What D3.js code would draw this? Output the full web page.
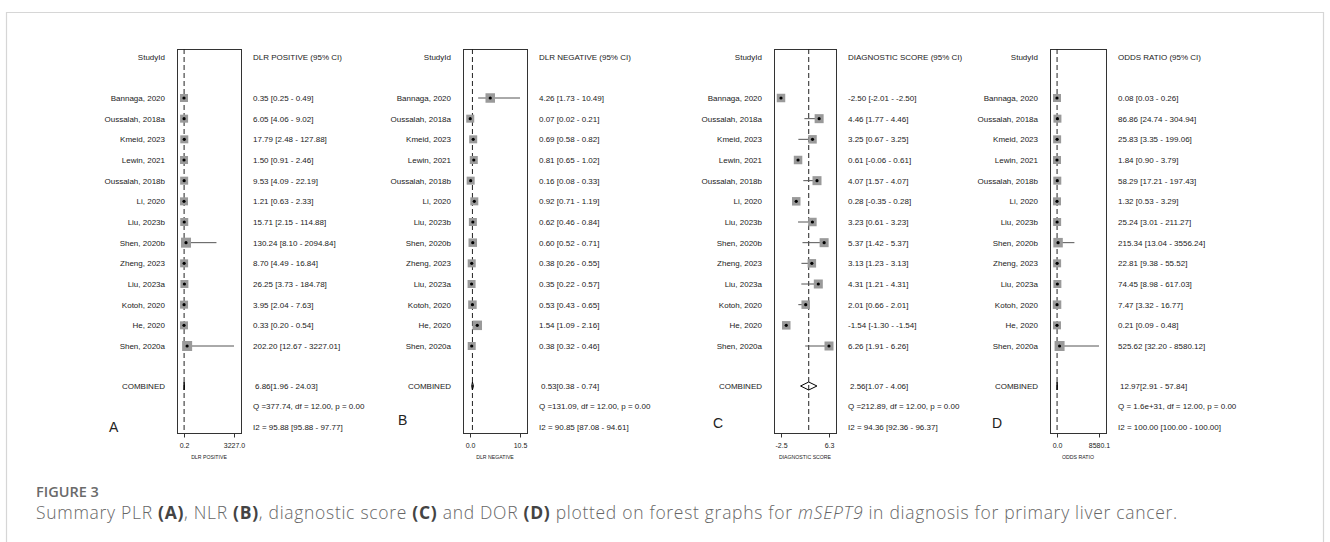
<!DOCTYPE html>
<html>
<head>
<meta charset="utf-8">
<script src="https://cdn.jsdelivr.net/npm/d3@7"></script>
<style>
  body { margin: 0; background: #fff; }
  svg text { font-family: "Liberation Sans", Arial, sans-serif; }
  svg text.cap { font-family: "Open Sans", sans-serif; }
</style>
</head>
<body>
<div id="chart"></div>
<script>
// study names, same order in every panel
const studies = ["Bannaga, 2020", "Oussalah, 2018a", "Kmeid, 2023", "Lewin, 2021", "Oussalah, 2018b",
    "Li, 2020", "Liu, 2023b", "Shen, 2020b", "Zheng, 2023", "Liu, 2023a", "Kotoh, 2020", "He, 2020", "Shen, 2020a"];

// A - positive likelihood ratio
const plrEst = [0.35, 6.05, 17.79, 1.50, 9.53, 1.21, 15.71, 130.24, 8.70, 26.25, 3.95, 0.33, 202.20];
const plrLow = [0.25, 4.06, 2.48, 0.91, 4.09, 0.63, 2.15, 8.10, 4.49, 3.73, 2.04, 0.20, 12.67];
const plrHigh = [0.49, 9.02, 127.88, 2.46, 22.19, 2.33, 114.88, 2094.84, 16.84, 184.78, 7.63, 0.54, 3227.01];
const plrPooled = [6.86, 1.96, 24.03];

// B - negative likelihood ratio
const nlrEst = [4.26, 0.07, 0.69, 0.81, 0.16, 0.92, 0.62, 0.60, 0.38, 0.35, 0.53, 1.54, 0.38];
const nlrLow = [1.73, 0.02, 0.58, 0.65, 0.08, 0.71, 0.46, 0.52, 0.26, 0.22, 0.43, 1.09, 0.32];
const nlrHigh = [10.49, 0.21, 0.82, 1.02, 0.33, 1.19, 0.84, 0.71, 0.55, 0.57, 0.65, 2.16, 0.46];
const nlrPooled = [0.53, 0.38, 0.74];

// C - diagnostic score
const dsEst = [-2.50, 4.46, 3.25, 0.61, 4.07, 0.28, 3.23, 5.37, 3.13, 4.31, 2.01, -1.54, 6.26];
const dsLow = [-2.01, 1.77, 0.67, -0.06, 1.57, -0.35, 0.61, 1.42, 1.23, 1.21, 0.66, -1.30, 1.91];
const dsHigh = [-2.50, 4.46, 3.25, 0.61, 4.07, 0.28, 3.23, 5.37, 3.13, 4.31, 2.01, -1.54, 6.26];
const dsPooled = [2.56, 1.07, 4.06];

// D - diagnostic odds ratio
const dorEst = [0.08, 86.86, 25.83, 1.84, 58.29, 1.32, 25.24, 215.34, 22.81, 74.45, 7.47, 0.21, 525.62];
const dorLow = [0.03, 24.74, 3.35, 0.90, 17.21, 0.53, 3.01, 13.04, 9.38, 8.98, 3.32, 0.09, 32.20];
const dorHigh = [0.26, 304.94, 199.06, 3.79, 197.43, 3.29, 211.27, 3556.24, 55.52, 617.03, 16.77, 0.48, 8580.12];
const dorPooled = [12.97, 2.91, 57.84];

// relative study weights (square size)
const plrWeight = [1, 1, 1, 1, 1, 1, 1, 1.4, 1, 1, 1, 1, 1.4];
const nlrWeight = [1.3, 1, 1, 1, 1, 1, 1, 1.1, 1, 1, 1.1, 1.3, 1];
const dsWeight = [1.1, 1.2, 1.1, 1.1, 1.2, 1.1, 1.1, 1.2, 1.1, 1.2, 1.1, 1.1, 1.2];
const dorWeight = [1, 1, 1, 1, 1, 1, 1, 1.3, 1, 1, 1.1, 1, 1.4];

const headers = ["DLR POSITIVE (95% CI)", "DLR NEGATIVE (95% CI)", "DIAGNOSTIC SCORE (95% CI)", "ODDS RATIO (95% CI)"];
const axisTitles = ["DLR POSITIVE", "DLR NEGATIVE", "DIAGNOSTIC SCORE", "ODDS RATIO"];
const qTexts = ["Q =377.74, df = 12.00, p =  0.00", "Q =131.09, df = 12.00, p =  0.00",
    "Q =212.89, df = 12.00, p =  0.00", "Q = 1.6e+31, df = 12.00, p =  0.00"];
const i2Texts = ["I2 = 95.88 [95.88 - 97.77]", "I2 = 90.85 [87.08 - 94.61]",
    "I2 = 94.36 [92.36 - 96.37]", "I2 = 100.00 [100.00 - 100.00]"];
const letters = ["A", "B", "C", "D"];

const panelData = [
    {est: plrEst, low: plrLow, high: plrHigh, pooled: plrPooled, w: plrWeight},
    {est: nlrEst, low: nlrLow, high: nlrHigh, pooled: nlrPooled, w: nlrWeight},
    {est: dsEst, low: dsLow, high: dsHigh, pooled: dsPooled, w: dsWeight},
    {est: dorEst, low: dorLow, high: dorHigh, pooled: dorPooled, w: dorWeight}
];

// layout of each panel (label right edge, box, value text, panel letter)
const layout = [
    {label: 165, box0: 177, box1: 241, text: 253, lx: 109, ly: 432},
    {label: 451, box0: 463, box1: 527, text: 539, lx: 398, ly: 425},
    {label: 762, box0: 774, box1: 836, text: 848, lx: 713, ly: 428},
    {label: 1038, box0: 1050, box1: 1106, text: 1118, lx: 992, ly: 428}
];

const width = 1330, height = 542;
const boxTop = 49, boxBottom = 433;
const yRow = d3.scaleLinear().domain([0, studies.length - 1]).range([98, 346]);
const yHeader = 57, yPooled = 386, yQ = 406, yI2 = 427;
const sizeScale = d3.scaleLinear().domain([1, 1.4]).range([8, 10]);
// plain hyphen as minus sign, like the original
const loc = d3.formatLocale({decimal: ".", thousands: ",", grouping: [3], currency: ["", ""], minus: "-"});
const f2 = loc.format(".2f");
const f1 = loc.format(".1f");

const svg = d3.select("#chart").append("svg")
    .attr("width", width)
    .attr("height", height);

// figure frame
svg.append("path")
    .attr("d", "M6.5,560 V12.5 H1323.5 V560")
    .attr("fill", "none")
    .attr("stroke", "#d6d6d6")
    .attr("stroke-width", 1.2);

panelData.forEach((p, k) => {
    const L = layout[k];
    const g = svg.append("g");
    const x = d3.scaleLinear()
        .domain([d3.min(p.low.concat(p.est)), d3.max(p.high.concat(p.est))])
        .range([L.box0 + 7, L.box1 - 7]);

    // box
    g.append("rect")
        .attr("x", L.box0 + 0.5).attr("y", boxTop + 0.5)
        .attr("width", L.box1 - L.box0).attr("height", boxBottom - boxTop)
        .attr("fill", "none").attr("stroke", "#333").attr("stroke-width", 1);

    // pooled reference line
    g.append("line")
        .attr("x1", x(p.pooled[0])).attr("x2", x(p.pooled[0]))
        .attr("y1", boxTop).attr("y2", boxBottom)
        .attr("stroke", "#222").attr("stroke-width", 1)
        .attr("stroke-dasharray", "5,3");

    // headers
    g.append("text").attr("x", L.label).attr("y", yHeader + 3)
        .attr("text-anchor", "end").attr("font-size", 8).attr("fill", "#222").text("StudyId");
    g.append("text").attr("x", L.text).attr("y", yHeader + 3)
        .attr("font-size", 8).attr("fill", "#222").text(headers[k]);

    // study names
    g.selectAll(".name").data(studies).enter().append("text")
        .attr("x", L.label).attr("y", (d, i) => yRow(i) + 3)
        .attr("text-anchor", "end").attr("font-size", 8).attr("fill", "#222")
        .text(d => d);

    // CI lines
    g.selectAll(".ci").data(p.est).enter().append("line")
        .attr("x1", (d, i) => x(Math.min(p.low[i], p.high[i])))
        .attr("x2", (d, i) => x(Math.max(p.low[i], p.high[i])))
        .attr("y1", (d, i) => yRow(i)).attr("y2", (d, i) => yRow(i))
        .attr("stroke", "#555").attr("stroke-width", 1);

    // weight squares
    g.selectAll(".sq").data(p.est).enter().append("rect")
        .attr("x", (d, i) => x(d) - sizeScale(p.w[i]) / 2)
        .attr("y", (d, i) => yRow(i) - sizeScale(p.w[i]) / 2)
        .attr("width", (d, i) => sizeScale(p.w[i]))
        .attr("height", (d, i) => sizeScale(p.w[i]))
        .attr("fill", "#9a9a9a");

    // point estimates
    g.selectAll(".dot").data(p.est).enter().append("circle")
        .attr("cx", d => x(d)).attr("cy", (d, i) => yRow(i))
        .attr("r", 1.6).attr("fill", "#000");

    // value labels
    g.selectAll(".val").data(p.est).enter().append("text")
        .attr("x", L.text).attr("y", (d, i) => yRow(i) + 3)
        .attr("font-size", 8).attr("fill", "#222")
        .text((d, i) => f2(d) + " [" + f2(p.low[i]) + " - " + f2(p.high[i]) + "]");

    // pooled diamond
    const pe = p.pooled;
    g.append("path")
        .attr("d", "M" + x(pe[1]) + "," + yPooled + "L" + x(pe[0]) + "," + (yPooled - 4) +
            "L" + x(pe[2]) + "," + yPooled + "L" + x(pe[0]) + "," + (yPooled + 4) + "Z")
        .attr("fill", "none").attr("stroke", "#000").attr("stroke-width", 1);

    g.append("text").attr("x", L.label).attr("y", yPooled + 3)
        .attr("text-anchor", "end").attr("font-size", 8).attr("fill", "#222").text("COMBINED");
    g.append("text").attr("x", L.text + 2).attr("y", yPooled + 3)
        .attr("font-size", 8).attr("fill", "#222")
        .text(f2(pe[0]) + "[" + f2(pe[1]) + " - " + f2(pe[2]) + "]");
    g.append("text").attr("x", L.text).attr("y", yQ + 3)
        .attr("font-size", 8).attr("fill", "#222").text(qTexts[k]);
    g.append("text").attr("x", L.text).attr("y", yI2 + 3)
        .attr("font-size", 8).attr("fill", "#222").text(i2Texts[k]);

    // panel letter
    g.append("text").attr("x", L.lx).attr("y", L.ly)
        .attr("font-size", 14).attr("fill", "#222").text(letters[k]);

    // x axis: only min and max
    const ax = g.append("g")
        .attr("transform", "translate(0," + (boxBottom + 0.5) + ")")
        .call(d3.axisBottom(x).tickValues(x.domain()).tickFormat(f1).tickSize(4).tickSizeOuter(0));
    ax.select(".domain").remove();
    ax.selectAll("line").attr("stroke", "#333");
    ax.selectAll("text").attr("font-size", 7).attr("fill", "#222").attr("dy", "1.1em")
        .attr("font-family", "Liberation Sans, Arial, sans-serif");

    g.append("text").attr("x", (L.box0 + L.box1) / 2).attr("y", 459)
        .attr("text-anchor", "middle").attr("font-size", 5.2).attr("fill", "#222")
        .text(axisTitles[k]);
});

// caption
svg.append("text").attr("class", "cap")
    .attr("x", 36).attr("y", 497)
    .attr("font-size", 14.5).attr("font-weight", 600).attr("fill", "#6a6a6a")
    .text("FIGURE 3");

const cap = svg.append("text").attr("class", "cap")
    .attr("x", 36).attr("y", 519)
    .attr("font-size", 17.5).attr("font-weight", 300).attr("fill", "#666")
    .attr("letter-spacing", 0.7);
const parts = [
    ["Summary PLR ", 300, "normal"], ["(A)", 700, "normal"], [", NLR ", 300, "normal"], ["(B)", 700, "normal"],
    [", diagnostic score ", 300, "normal"], ["(C)", 700, "normal"], [" and DOR ", 300, "normal"], ["(D)", 700, "normal"],
    [" plotted on forest graphs for ", 300, "normal"], ["mSEPT9", 300, "italic"],
    [" in diagnosis for primary liver cancer.", 300, "normal"]
];
parts.forEach(t => {
    cap.append("tspan")
        .attr("font-weight", t[1])
        .attr("font-style", t[2])
        .attr("fill", t[1] === 700 ? "#444" : "#666")
        .text(t[0]);
});
</script>
</body>
</html>
